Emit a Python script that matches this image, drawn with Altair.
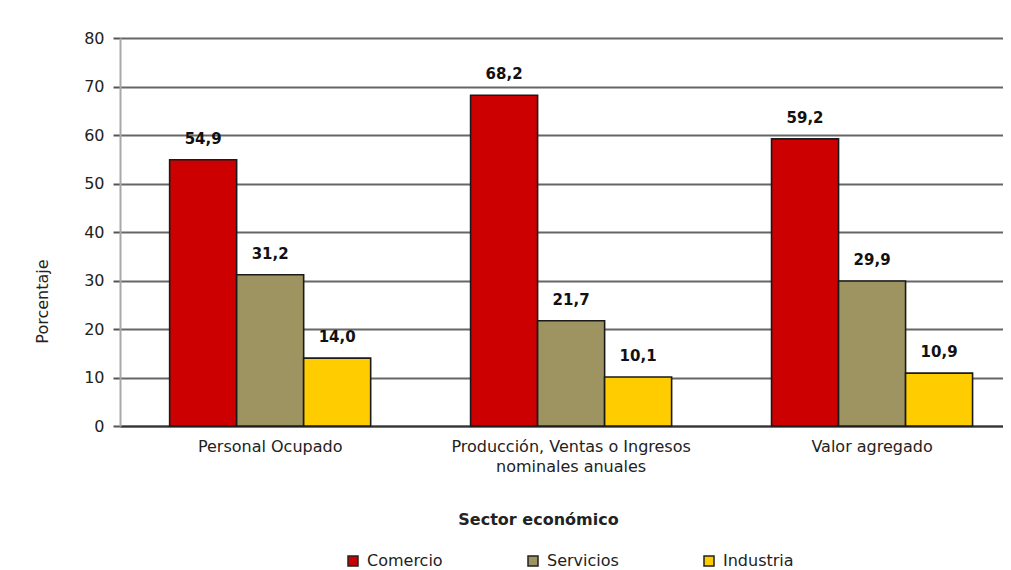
import altair as alt
import pandas as pd

sectores = ["Personal Ocupado", "Producción, Ventas o Ingresos\nnominales anuales", "Valor agregado"]
series = ["Comercio", "Servicios", "Industria"]
comercio = [54.9, 68.2, 59.2]
servicios = [31.2, 21.7, 29.9]
industria = [14.0, 10.1, 10.9]
colores = ["#CC0000", "#9E9461", "#FFCC00"]
y_ticks = [0, 10, 20, 30, 40, 50, 60, 70, 80]

rows = []
for i, s in enumerate(sectores):
    for name, vals in zip(series, [comercio, servicios, industria]):
        rows.append({"sector": s, "serie": name, "valor": vals[i]})
df = pd.DataFrame(rows)

FONT = "DejaVu Sans"
TXT = "#222222"

x_enc = alt.X(
    "sector:N",
    sort=sectores,
    title="Sector económico",
    scale=alt.Scale(paddingInner=0.332, paddingOuter=0.133, align=0.62),
    axis=alt.Axis(
        labelAngle=0,
        labelExpr="split(datum.label, '\\n')",
        labelFont=FONT,
        labelFontSize=16,
        labelColor=TXT,
        labelLineHeight=20,
        labelPadding=12,
        labelLimit=0,
        ticks=False,
        domainColor="#333333",
        domainWidth=2,
        titleFont=FONT,
        titleFontSize=16,
        titleFontWeight="bold",
        titleColor=TXT,
        titleX=418,
        titleY=93,
        titleBaseline="middle",
        titleAlign="center",
    ),
)
xoff_enc = alt.XOffset("serie:N", sort=series, scale=alt.Scale(paddingInner=0, paddingOuter=0))
y_enc = alt.Y(
    "valor:Q",
    title="Porcentaje",
    scale=alt.Scale(domain=[0, 80], nice=False),
    axis=alt.Axis(
        values=y_ticks,
        format="d",
        labelFont=FONT,
        labelFontSize=16,
        labelColor=TXT,
        labelPadding=9,
        tickSize=7,
        tickColor="#555555",
        tickWidth=2,
        domainColor="#A8A8A8",
        domainWidth=2,
        gridColor="#666666",
        gridWidth=2,
        titleFont=FONT,
        titleFontSize=16,
        titleFontWeight="normal",
        titleColor=TXT,
        titleAngle=-90,
        titleX=-78,
        titleY=263,
        titleAlign="center",
        titleBaseline="middle",
    ),
)

bars = alt.Chart(df).mark_bar(stroke="#1a1a1a", strokeWidth=1.6).encode(
    x=x_enc,
    xOffset=xoff_enc,
    y=y_enc,
    color=alt.Color(
        "serie:N",
        sort=series,
        scale=alt.Scale(domain=series, range=colores),
        legend=alt.Legend(
            title=None,
            orient="none",
            direction="horizontal",
            columns=3,
            gridAlign="each",
            legendX=225,
            legendY=515,
            columnPadding=82,
            symbolType="square",
            symbolSize=100,
            symbolStrokeColor="#222222",
            symbolStrokeWidth=1.5,
            symbolOpacity=1,
            labelFont=FONT,
            labelFontSize=16,
            labelColor=TXT,
            labelOffset=6,
            labelLimit=0,
        ),
    ),
)

labels = alt.Chart(df).transform_calculate(
    etiqueta="replace(format(datum.valor, '.1f'), '.', ',')"
).mark_text(
    dy=-16, baseline="alphabetic", fontWeight="bold", fontSize=15, font=FONT, color="#111111"
).encode(
    x=alt.X("sector:N", sort=sectores),
    xOffset=alt.XOffset("serie:N", sort=series),
    y=alt.Y("valor:Q"),
    text="etiqueta:N",
)

chart = alt.layer(bars, labels).properties(
    width=883,
    height=388,
    padding={"left": 112, "top": 30, "right": 0, "bottom": 144},
    autosize=alt.AutoSizeParams(type="none"),
    background="white",
).configure_view(stroke=None)

chart.save("out.html", embed_options={"renderer": "svg", "actions": False})
